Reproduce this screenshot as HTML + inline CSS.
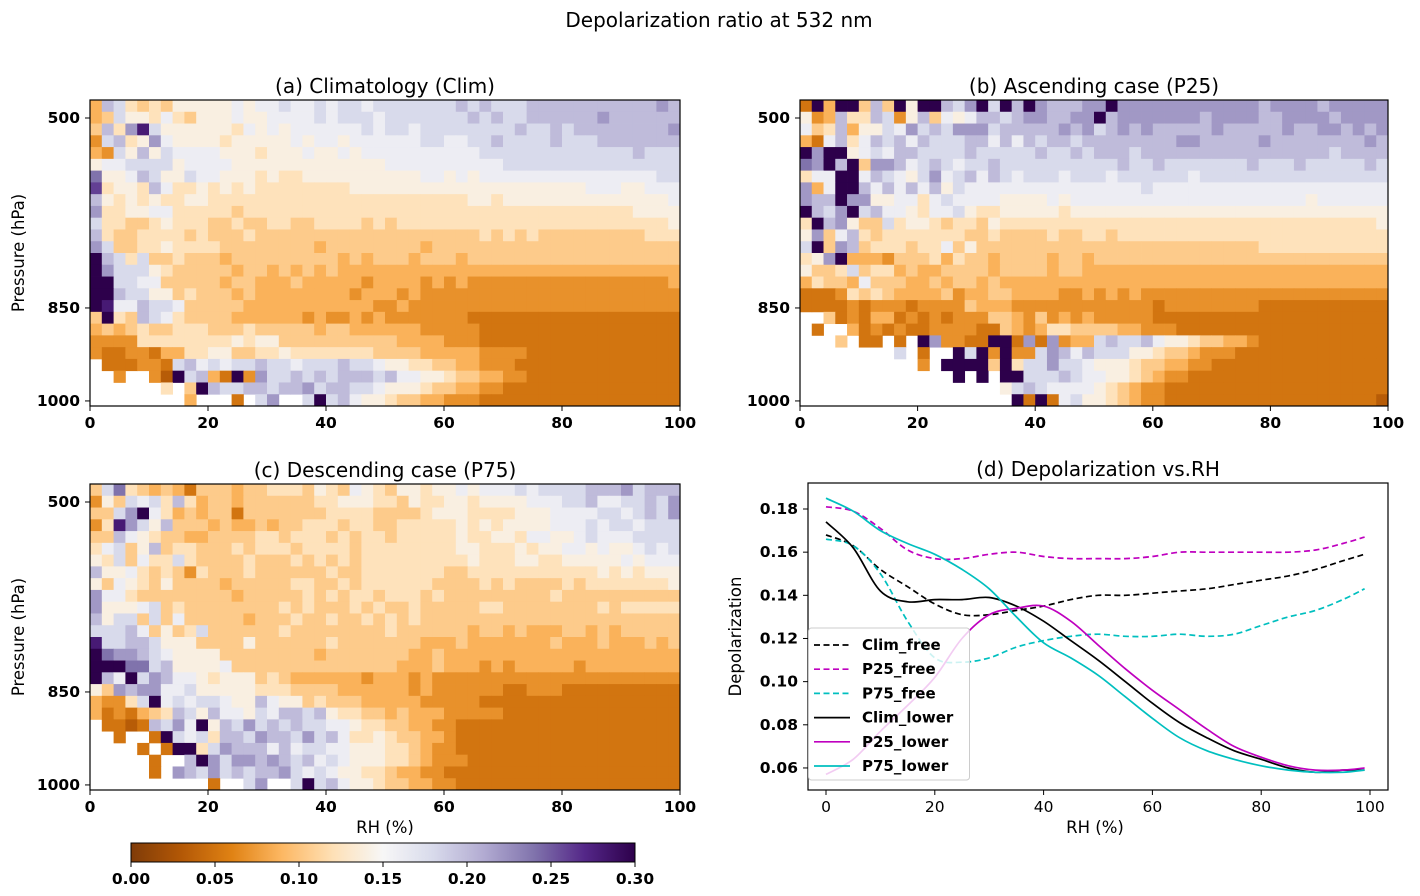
<!DOCTYPE html>
<html><head><meta charset="utf-8">
<style>
html,body{margin:0;padding:0;background:#fff;}
svg{display:block;font-family:"DejaVu Sans","Liberation Sans",sans-serif;}
.tk{font-size:15.5px;font-weight:bold;fill:#000;}
.ttl{font-size:20px;fill:#000;}
.lab{font-size:16.5px;fill:#000;}
.tkn{font-size:15.5px;fill:#000;}
.leg{font-size:15px;font-weight:bold;fill:#000;}
</style></head>
<body>
<svg id="fig" width="1420" height="896" viewBox="0 0 1420 896" xmlns="http://www.w3.org/2000/svg">
<text class="ttl" x="719" y="27" text-anchor="middle">Depolarization ratio at 532 nm</text>
<g id="root"></g>
</svg>
<script>
// ---------- heatmap data: hex digit per cell ('.' = no data) ----------
const rhBins = 50; // 2% RH bins
const pressureTicks = [500, 850, 1000];
const pressureTickRows = [1.53, 17.67, 25.57];
const rhTicks = [0, 20, 40, 60, 80, 100];
const cbTicks = [0.00, 0.05, 0.10, 0.15, 0.20, 0.25, 0.30];

const climRows = [
"4a96565777"+"7787889889"+"8998999999"+"9a9a999aaa"+"aaaaaaaaba",
"4597768657"+"7787788889"+"8999899999"+"99a9a99aaa"+"aaabaaaaaa",
"5a6be97777"+"7768787888"+"8889899899"+"999999a99a"+"9aaaaaaaab",
"39a67b8777"+"7677777878"+"8788888899"+"8899a9999a"+"999aaaaaaa",
"4397a79888"+"8777677787"+"7878888888"+"8889999999"+"999999a999",
"7889999788"+"8877777777"+"7777788888"+"8888899999"+"9999999999",
"c778a97798"+"8777676677"+"7777777788"+"7878888888"+"8888888899",
"d6776a8667"+"6767666666"+"6677777777"+"7777777777"+"7788877888",
"a767676677"+"6666666666"+"6666666666"+"6677677777"+"7777777778",
"b667788666"+"6656666666"+"6666666666"+"6666666666"+"6666667777",
"9665567666"+"5565566556"+"6665656666"+"6666666666"+"6666666667",
"a655666656"+"5556555555"+"5555555555"+"5556565655"+"5555555666",
"b955667666"+"6555555554"+"5555555545"+"5555555555"+"5555555555",
"fa96955655"+"5455555555"+"5454555455"+"5455555555"+"5555555555",
"fb99976555"+"5545545454"+"5444444444"+"4444444444"+"4444444444",
"ff99885555"+"5455444544"+"4443444434"+"3433333333"+"3333333334",
"ffa9977565"+"5545444444"+"4434443433"+"3333333333"+"3333333333",
"fe88a99855"+"5554444444"+"4444334333"+"3333333333"+"3333333333",
"5f65a98655"+"5544444434"+"3343433333"+"3322222222"+"2222222222",
"4545655666"+"5556555554"+"5544444433"+"3332222222"+"2222222222",
"3333666666"+"6676775555"+"5555554444"+"3332222222"+"2222222222",
"3223324466"+"7755667666"+"6666555544"+"4443333222"+"2222222222",
".2223329a8"+"9899a99899"+"9a99877665"+"5443332222"+"2222222222",
"..3..31f9a"+"42f3b99a9a"+"9aaa9a8877"+"6554433222"+"2222222222",
"......6.5f"+"a99aa9aab9"+"aa99877765"+"5443322222"+"2222222222",
"........4."+"..2.9b..9f"+"9a87765544"+"3332222222"+"2222222222"];

const p25Rows = [
"2f4ff5a5f7"+"ffa9bf9faf"+"baaabbfbbb"+"bbbbbbbbba"+"bbbbabbbbb",
"734a66a937"+"a5878aa9ab"+"baabbfabbb"+"bbbbabbbba"+"abbbbabbbb",
"856a47798b"+"9a9bbb9aaa"+"aabab9abab"+"aaaaabaaaa"+"abaabbabab",
"428a68a9a8"+"a999aa8a8a"+"9aa9aaaaaa"+"aabbaaaaab"+"aaaaaaaaba",
"fbff7898aa"+"9999a99999"+"a99a9aaa9a"+"aaaaaaaaaa"+"aaaaa9aaaa",
"cbfaf5bba8"+"9a9899a999"+"9999999a99"+"a9999999a9"+"99a99999a9",
"688ff8a987"+"9b89a8a989"+"9989998999"+"9998999999"+"9999999999",
"b48ffa8a8a"+"8a79888888"+"8888888889"+"8888888888"+"8888888888",
"baafbb7788"+"6898888777"+"7878888888"+"8888888888"+"8887888888",
"fa9bf9a887"+"6889766777"+"7767777777"+"7777777777"+"7777777777",
"6fab755967"+"7656657666"+"6666666666"+"6666666666"+"6666666667",
"7b58a65666"+"6666556555"+"5655665666"+"6666666666"+"6666666666",
"9f5ba56665"+"6685755555"+"5555555555"+"5555555556"+"6666666666",
"67bf444355"+"5646554555"+"5455455555"+"5555555555"+"5555555555",
"7556956645"+"4455554555"+"5455444444"+"4444444444"+"4444444444",
"4655485554"+"4545545444"+"4444444444"+"4444444444"+"4444444444",
"2223656544"+"4453445544"+"4433434343"+"3333333333"+"3333333333",
"2222323332"+"3333544433"+"3333333333"+"2333333332"+"2222222222",
"..52324423"+"2323335543"+"5343433333"+"2222222222"+"2222222222",
".2..423232"+"2333322543"+"4665555443"+"3322222222"+"2222222222",
"...5.22.2."+"fb3322ff2b"+"2b3449a99a"+"8776554432"+"2222222222",
"........9."+"2..f9f3f33"+"9ba8a99977"+"6554333222"+"2222222222",
".........."+"3.ffff5f69"+"9b99877765"+"5443322222"+"2222222222",
".........."+"...f.f.ff9"+"99a9887765"+"4332222222"+"2222222222",
".........."+".......79a"+"9888876543"+"3222222222"+"2222222222",
".........."+"........f2"+"f289776543"+"3222222222"+"2222222221"];

const p75Rows = [
"59c6545425"+"5545566657"+"6587657767"+"7878889899"+"99aaab9aaa",
"3759896a64"+"5545555556"+"6777665766"+"7767777888"+"99a8899a9b",
"559bf86454"+"5525555555"+"6666555567"+"7766667778"+"8889989a9b",
"36eb97a555"+"4544545566"+"6566556666"+"6767677778"+"8898998999",
"55a8765544"+"5555665666"+"5656656666"+"6766776887"+"7898889999",
"68957a5665"+"5565666566"+"6656666666"+"6776667677"+"8878778989",
"7695866965"+"5556555656"+"5656666666"+"6676667766"+"7777787888",
"a778656536"+"5556555555"+"6556666666"+"5566666666"+"6667676777",
"7587657555"+"5455555665"+"5656666665"+"5556565555"+"6566666667",
"b886555555"+"5545555565"+"6566566656"+"5555555556"+"5555555555",
"b777895655"+"5555556565"+"5565655655"+"5556655555"+"5556566666",
"a799595855"+"5554555655"+"6556565655"+"5555555555"+"5555555555",
"999a857569"+"5555556555"+"5555565555"+"5545545444"+"5545455555",
"e99aa97775"+"5557555555"+"6555555544"+"4544444445"+"4445444545",
"fcbba98777"+"7555555554"+"5555555445"+"4444444444"+"4444444444",
"fffcc9a777"+"7855555555"+"5555554445"+"4443434444"+"4344444444",
"fa8f9ba887"+"6777565444"+"4443444343"+"3333333333"+"3333333333",
"75babb8897"+"7777666555"+"5444444343"+"3333322333"+"2222222222",
"43369f8989"+"9877a87756"+"5554444433"+"3332222222"+"2222222222",
"4232456a97"+"a88798aa9a"+"7665545444"+"3333322222"+"2222222222",
".2212a9b8f"+"7a9b9a9a99"+"8876655443"+"3222222222"+"2222222222",
"..2..2f989"+"6aa9baa9b9"+"a866765544"+"3222222222"+"2222222222",
"....2.2ff6"+"9baaa8a899"+"8877766543"+"3222222222"+"2222222222",
".....2..af"+"b9bbaba9a8"+"9877766543"+"3322222222"+"2222222222",
".....2.ba9"+"b9a9aab989"+"8776654433"+"2222222222"+"2222222222",
".........."+"2..9b..9f9"+"a877655443"+"3222222222"+"2222222222"];

// ---------- line chart data (panel d) ----------
const rhPts = [0,5,10,15,20,25,30,35,40,45,50,55,60,65,70,75,80,85,90,95,99];
const climFree = [0.168,0.163,0.152,0.144,0.136,0.131,0.131,0.133,0.135,0.138,0.140,0.140,0.141,0.142,0.143,0.145,0.147,0.149,0.152,0.156,0.159];
const p25Free  = [0.181,0.179,0.171,0.161,0.157,0.157,0.159,0.160,0.158,0.157,0.157,0.157,0.158,0.160,0.160,0.160,0.160,0.160,0.161,0.164,0.167];
const p75Free  = [0.166,0.163,0.150,0.128,0.111,0.109,0.111,0.116,0.119,0.121,0.122,0.121,0.121,0.122,0.121,0.122,0.126,0.130,0.133,0.138,0.143];
const climLower= [0.174,0.162,0.142,0.137,0.138,0.138,0.139,0.135,0.128,0.119,0.110,0.100,0.090,0.081,0.074,0.068,0.064,0.060,0.058,0.059,0.059];
const p25Lower = [0.057,0.064,0.077,0.089,0.102,0.120,0.131,0.134,0.135,0.128,0.117,0.106,0.096,0.087,0.078,0.070,0.065,0.061,0.059,0.059,0.060];
const p75Lower = [0.185,0.179,0.170,0.164,0.159,0.152,0.143,0.130,0.118,0.111,0.103,0.093,0.083,0.074,0.068,0.064,0.061,0.059,0.058,0.058,0.059];
const dXTicks = [0,20,40,60,80,100];
const dYTicks = [0.06,0.08,0.10,0.12,0.14,0.16,0.18];

const NS = "http://www.w3.org/2000/svg";
const root = document.getElementById('root');
function mk(tag, attrs, parent){
  const e = document.createElementNS(NS, tag);
  for (const k in attrs) e.setAttribute(k, attrs[k]);
  (parent||root).appendChild(e);
  return e;
}
function decode(ch){
  const d = parseInt(ch, 16);
  return d <= 7 ? 0.015 + d*(0.14-0.015)/7 : d/50;
}
const stops = ["#7f3b08","#b35806","#e08214","#fdb863","#fee0b6","#f7f7f7","#d8daeb","#b2abd2","#8073ac","#542788","#2d004b"];
function hex2rgb(h){return [parseInt(h.slice(1,3),16),parseInt(h.slice(3,5),16),parseInt(h.slice(5,7),16)];}
function cmap(v){
  let f = Math.max(0, Math.min(1, v/0.3)) * 10;
  const i = Math.min(9, Math.floor(f)); const t = f - i;
  const a = hex2rgb(stops[i]), b = hex2rgb(stops[i+1]);
  return "rgb(" + a.map((x,k)=>Math.round(x+(b[k]-x)*t)).join(",") + ")";
}

function heatmap(name, rows, x0, x1, y0, y1, title, showYLabel, showXLabel){
  const g = mk('g', {});
  
  
  const nr = rows.length;
  const xs = v => x0 + (v/100)*(x1-x0);
  const ys = r => y0 + r*(y1-y0)/nr;
  rows.forEach((row, r) => {
    for (let c = 0; c < rhBins; c++){
      const ch = row[c];
      if (ch === '.' || ch === undefined) continue;
      const v = decode(ch);
      const rect = mk('rect', {x: xs(c*2).toFixed(2), y: ys(r).toFixed(2),
        width: (xs(2)-xs(0)+0.4).toFixed(2), height: (ys(1)-ys(0)+0.4).toFixed(2), fill: cmap(v)}, g);
      
      
    }
  });
  const fr = mk('rect', {x:x0, y:y0, width:x1-x0, height:y1-y0, fill:'none', stroke:'#000', 'stroke-width':1.2}, g);
  
  
  rhTicks.forEach(t => {
    mk('line', {x1:xs(t), x2:xs(t), y1:y1, y2:y1+5, stroke:'#000'}, g);
    const tx = mk('text', {x:xs(t), y:y1+22, 'text-anchor':'middle', class:'tk'}, g);
    tx.textContent = t;
    
    
  });
  pressureTicks.forEach((p, i) => {
    const yy = ys(pressureTickRows[i]);
    mk('line', {x1:x0-5, x2:x0, y1:yy, y2:yy, stroke:'#000'}, g);
    const tx = mk('text', {x:x0-10, y:yy+5, 'text-anchor':'end', class:'tk'}, g);
    tx.textContent = p;
    
    
  });
  const tt = mk('text', {x:(x0+x1)/2, y:y0-7, 'text-anchor':'middle', class:'ttl'}, g);
  tt.textContent = title;
  
  
  if (showYLabel){
    const yl = mk('text', {x:0, y:0, transform:'translate(24,'+((y0+y1)/2)+') rotate(-90)', 'text-anchor':'middle', class:'lab'}, g);
    yl.textContent = 'Pressure (hPa)';
    
    
  }
  if (showXLabel){
    const xl = mk('text', {x:(x0+x1)/2, y:y1+43, 'text-anchor':'middle', class:'lab'}, g);
    xl.textContent = 'RH (%)';
    
    
  }
}
heatmap('heatmap-climatology', climRows, 90, 680, 100, 406, '(a) Climatology (Clim)', true, false);
heatmap('heatmap-ascending', p25Rows, 800, 1388, 100, 406, '(b) Ascending case (P25)', false, false);
heatmap('heatmap-descending', p75Rows, 90, 680, 484, 790, '(c) Descending case (P75)', true, true);

// ---------- colorbar ----------
(function(){
  const cx0 = 131, cx1 = 635, cy0 = 843, cy1 = 862;
  const g = mk('g', {});
  
  
  const defs = mk('defs', {}, g);
  const lg = mk('linearGradient', {id:'cbg', x1:'0', x2:'1', y1:'0', y2:'0'}, defs);
  for (let i = 0; i <= 30; i++){
    mk('stop', {offset: (i/30), 'stop-color': cmap(0.3*i/30)}, lg);
  }
  mk('rect', {x:cx0, y:cy0, width:cx1-cx0, height:cy1-cy0, fill:'url(#cbg)', stroke:'#000', 'stroke-width':1}, g);
  const cs = v => cx0 + (v/0.3)*(cx1-cx0);
  cbTicks.forEach(t => {
    mk('line', {x1:cs(t), x2:cs(t), y1:cy1, y2:cy1+5, stroke:'#000'}, g);
    const tx = mk('text', {x:cs(t), y:cy1+22, 'text-anchor':'middle', class:'tk'}, g);
    tx.textContent = t.toFixed(2);
    
    
  });
})();

// ---------- panel d line chart ----------
(function(){
  const x0 = 808, x1 = 1388, y0 = 483, y1 = 790;
  const xs = v => 826 + v*5.44;
  const ys = v => 509 + (0.18 - v)*2158;
  const g = mk('g', {});
  
  
  const fr = mk('rect', {x:x0, y:y0, width:x1-x0, height:y1-y0, fill:'#fff', stroke:'#000', 'stroke-width':1.2}, g);
  
  
  function pathFor(ys_){
    const P = rhPts.map((r,i)=>[xs(r), ys(ys_[i])]);
    let d = 'M' + P[0][0].toFixed(1) + ',' + P[0][1].toFixed(1);
    for (let i = 0; i < P.length-1; i++){
      const p0 = P[Math.max(0,i-1)], p1 = P[i], p2 = P[i+1], p3 = P[Math.min(P.length-1,i+2)];
      const c1 = [p1[0]+(p2[0]-p0[0])/6, p1[1]+(p2[1]-p0[1])/6];
      const c2 = [p2[0]-(p3[0]-p1[0])/6, p2[1]-(p3[1]-p1[1])/6];
      d += ' C' + c1.map(v=>v.toFixed(1)).join(',') + ' ' + c2.map(v=>v.toFixed(1)).join(',') + ' ' + p2.map(v=>v.toFixed(1)).join(',');
    }
    return d;
  }
  const series = [
    ['Clim_free', climFree, '#000000', true, 'series-clim-free'],
    ['P25_free', p25Free, '#bf00bf', true, 'series-p25-free'],
    ['P75_free', p75Free, '#00bfbf', true, 'series-p75-free'],
    ['Clim_lower', climLower, '#000000', false, 'series-clim-lower'],
    ['P25_lower', p25Lower, '#bf00bf', false, 'series-p25-lower'],
    ['P75_lower', p75Lower, '#00bfbf', false, 'series-p75-lower']];
  series.forEach(s => {
    const a = {d: pathFor(s[1]), fill:'none', stroke:s[2], 'stroke-width':1.7};
    if (s[3]) a['stroke-dasharray'] = '6,3.5';
    const p = mk('path', a, g);
    
    
  });
  dXTicks.forEach(t => {
    mk('line', {x1:xs(t), x2:xs(t), y1:y1, y2:y1+5, stroke:'#000'}, g);
    const tx = mk('text', {x:xs(t), y:y1+22, 'text-anchor':'middle', class:'tkn'}, g);
    tx.textContent = t;
    
    
  });
  dYTicks.forEach(t => {
    mk('line', {x1:x0-5, x2:x0, y1:ys(t), y2:ys(t), stroke:'#000'}, g);
    const tx = mk('text', {x:x0-10, y:ys(t)+5, 'text-anchor':'end', class:'tk'}, g);
    tx.textContent = t.toFixed(2);
    
    
  });
  const tt = mk('text', {x:(x0+x1)/2, y:y0-7, 'text-anchor':'middle', class:'ttl'}, g);
  tt.textContent = '(d) Depolarization vs.RH';
  
  
  const xl = mk('text', {x:1095, y:833, 'text-anchor':'middle', class:'lab'}, g);
  xl.textContent = 'RH (%)';
  
  
  const yl = mk('text', {x:0, y:0, transform:'translate(741,'+((y0+y1)/2)+') rotate(-90)', 'text-anchor':'middle', class:'lab'}, g);
  yl.textContent = 'Depolarization';
  
  
  const lgG = mk('g', {}, g);
  
  
  mk('rect', {x:808.5, y:628, width:161, height:152, rx:3, fill:'#fff', 'fill-opacity':0.8, stroke:'#ccc'}, lgG);
  series.forEach((s, i) => {
    const yy = 645 + i*24.2;
    const ent = mk('g', {}, lgG);
    
    
    const a = {x1:814, x2:850, y1:yy, y2:yy, stroke:s[2], 'stroke-width':1.7};
    if (s[3]) a['stroke-dasharray'] = '6,3.5';
    mk('line', a, ent);
    const tx = mk('text', {x:862, y:yy+5, class:'leg'}, ent);
    tx.textContent = s[0];
  });
})();
</script>
</body></html>
